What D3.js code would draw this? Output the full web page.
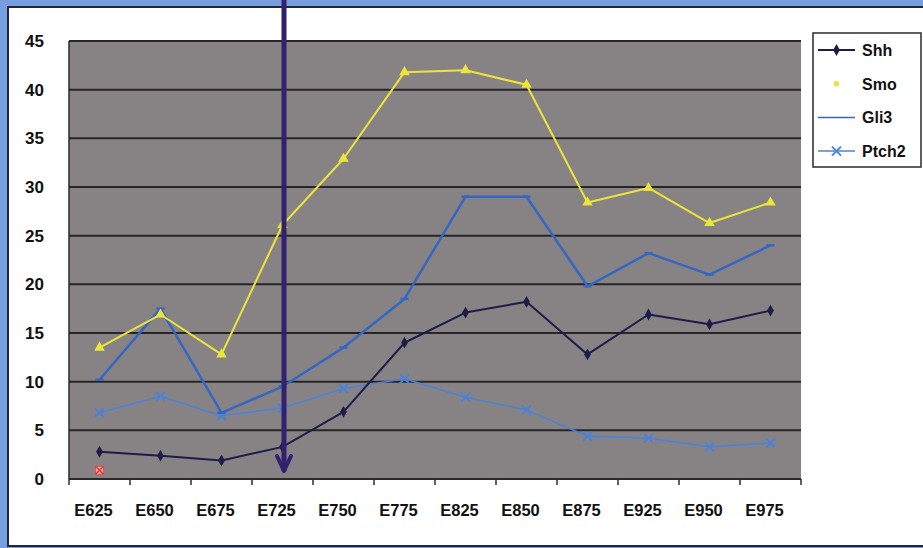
<!DOCTYPE html>
<html>
<head>
<meta charset="utf-8">
<script src="https://cdn.jsdelivr.net/npm/d3@7"></script>
<style>
  html, body { margin: 0; padding: 0; background: #779fe0; }
  svg { display: block; }
  text { font-family: "Liberation Sans", Arial, sans-serif; font-weight: bold; fill: #111; }
</style>
</head>
<body>
<svg id="chart" width="923" height="548"></svg>
<script>
// Embryo stages along the x axis
const stages = ["E625", "E650", "E675", "E725", "E750", "E775", "E825", "E850", "E875", "E925", "E950", "E975"];

// Expression level per stage
const shh   = [2.8, 2.4, 1.9, 3.3, 6.9, 14.0, 17.1, 18.2, 12.8, 16.9, 15.9, 17.3];
const smo   = [13.5, 16.9, 12.8, 26.1, 32.9, 41.8, 42.0, 40.5, 28.4, 29.9, 26.3, 28.4];
const gli3  = [10.2, 17.5, 6.8, 9.5, 13.5, 18.5, 29.0, 29.0, 19.8, 23.2, 21.0, 24.0];
const ptch2 = [6.8, 8.5, 6.5, 7.3, 9.3, 10.3, 8.4, 7.1, 4.4, 4.2, 3.3, 3.7];

// Lone marker near the baseline at the first stage
const strayStage = ["E625"];
const strayValue = [0.9];

// Y axis ticks
const yTicks = [0, 5, 10, 15, 20, 25, 30, 35, 40, 45];

// Stage marked by the arrow
const arrowStage = "E725";

const series = [
  { name: "Shh",   values: shh,   color: "#1c1d48", width: 2,   marker: "diamond" },
  { name: "Smo",   values: smo,   color: "#ece43a", width: 2,   marker: "triangle" },
  { name: "Gli3",  values: gli3,  color: "#3566c2", width: 2.5, marker: "dash" },
  { name: "Ptch2", values: ptch2, color: "#4b82d8", width: 1.6, marker: "cross" }
];

const svg = d3.select("#chart");

// White panel with a dark frame
svg.append("rect").attr("x", 8).attr("y", 7).attr("width", 920).attr("height", 539)
  .attr("fill", "#ffffff").attr("stroke", "#23253a").attr("stroke-width", 2);

const plot = { left: 69, right: 801, top: 41, bottom: 479 };

const x = d3.scaleBand().domain(stages).range([plot.left, plot.right]).paddingInner(0).paddingOuter(0);
const y = d3.scaleLinear().domain([0, 45]).range([plot.bottom, plot.top]);
const cx = s => x(s) + x.bandwidth() / 2;

// Plot background
svg.append("rect").attr("x", plot.left).attr("y", plot.top)
  .attr("width", plot.right - plot.left).attr("height", plot.bottom - plot.top)
  .attr("fill", "#878384");

// Horizontal gridlines
svg.append("g").selectAll("line").data(yTicks.filter(t => t > 0)).join("line")
  .attr("x1", plot.left).attr("x2", plot.right)
  .attr("y1", d => y(d)).attr("y2", d => y(d))
  .attr("stroke", "#262626").attr("stroke-width", 2);

// Left border of the plot area
svg.append("line").attr("x1", plot.left).attr("x2", plot.left)
  .attr("y1", plot.top).attr("y2", plot.bottom)
  .attr("stroke", "#2a2a2a").attr("stroke-width", 1.5);

// Y axis labels
const yAxis = d3.axisLeft(y).tickValues(yTicks).tickSize(0).tickPadding(25);
const gy = svg.append("g").attr("transform", `translate(${plot.left},0)`).call(yAxis);
gy.select(".domain").remove();
gy.selectAll("text").style("font-size", "17px").attr("fill", "#111")
  .style("font-family", "'Liberation Sans', Arial, sans-serif").style("font-weight", "bold");

// X axis with ticks between categories
const gx = svg.append("g").attr("transform", `translate(0,${plot.bottom})`);
gx.append("line").attr("x1", plot.left).attr("x2", plot.right).attr("y1", 0).attr("y2", 0)
  .attr("stroke", "#2a2a2a").attr("stroke-width", 2);
const boundaries = stages.map(s => x(s)).concat([plot.right]);
gx.selectAll("line.tick").data(boundaries).join("line").attr("class", "tick")
  .attr("x1", d => d).attr("x2", d => d).attr("y1", 0).attr("y2", 6)
  .attr("stroke", "#2a2a2a").attr("stroke-width", 1.5);
gx.selectAll("text").data(stages).join("text")
  .attr("x", d => cx(d) - 6).attr("y", 37)
  .attr("text-anchor", "middle").style("font-size", "16.5px").text(d => d);

// Marker shapes
function drawMarker(g, type, color, px, py) {
  if (type === "diamond") {
    g.append("path").attr("d", d3.symbol(d3.symbolDiamond, 40)())
      .attr("transform", `translate(${px},${py})`).attr("fill", color);
  } else if (type === "triangle") {
    g.append("path").attr("d", d3.symbol(d3.symbolTriangle, 48)())
      .attr("transform", `translate(${px},${py})`).attr("fill", color);
  } else if (type === "dash") {
    g.append("line").attr("x1", px - 4).attr("x2", px + 4).attr("y1", py).attr("y2", py)
      .attr("stroke", color).attr("stroke-width", 2.5);
  } else if (type === "cross") {
    g.append("path").attr("d", `M${px - 4.5},${py - 4.5}L${px + 4.5},${py + 4.5}M${px - 4.5},${py + 4.5}L${px + 4.5},${py - 4.5}`)
      .attr("stroke", color).attr("stroke-width", 2);
  }
}

const line = d3.line().x((d, i) => cx(stages[i])).y(d => y(d));

// Draw order: Ptch2 and Gli3 beneath, then Smo and Shh
const order = ["Ptch2", "Gli3", "Smo", "Shh"];
order.forEach(name => {
  const s = series.find(d => d.name === name);
  const g = svg.append("g");
  g.append("path").datum(s.values).attr("d", line)
    .attr("fill", "none").attr("stroke", s.color).attr("stroke-width", s.width)
    .attr("stroke-linejoin", "round");
  s.values.forEach((v, i) => drawMarker(g, s.marker, s.color, cx(stages[i]), y(v)));
});

// Stray marker
strayStage.forEach((st, i) => {
  const px = cx(st), py = y(strayValue[i]);
  const g = svg.append("g");
  g.append("rect").attr("x", px - 4).attr("y", py - 4).attr("width", 8).attr("height", 8)
    .attr("fill", "#f2a0a0").attr("stroke", "#e05555").attr("stroke-width", 1);
  g.append("path").attr("d", `M${px - 4},${py - 4}L${px + 4},${py + 4}M${px - 4},${py + 4}L${px + 4},${py - 4}`)
    .attr("stroke", "#d84040").attr("stroke-width", 1.5);
});

// Legend
const legend = svg.append("g");
legend.append("rect").attr("x", 813).attr("y", 33).attr("width", 108).attr("height", 134)
  .attr("fill", "#ffffff").attr("stroke", "#2a2a2a").attr("stroke-width", 1.5);
series.forEach((s, i) => {
  const ly = 50 + i * 33.7;
  const g = legend.append("g");
  if (s.name !== "Smo") {
    g.append("line").attr("x1", 818).attr("x2", 855).attr("y1", ly).attr("y2", ly)
      .attr("stroke", s.color).attr("stroke-width", s.name === "Shh" ? 2 : 1.5);
    if (s.marker === "diamond" || s.marker === "cross") drawMarker(g, s.marker, s.color, 836.5, ly);
  } else {
    g.append("circle").attr("cx", 836.5).attr("cy", ly).attr("r", 2.8).attr("fill", s.color);
  }
  g.append("text").attr("x", 862).attr("y", ly + 6).style("font-size", "16px").text(s.name);
});

// Arrow pointing down at the marked stage
const ax = cx(arrowStage) + 1.5;
const arrow = svg.append("g").attr("stroke", "#33206e").attr("fill", "none")
  .attr("stroke-width", 5).attr("stroke-linecap", "round");
arrow.append("line").attr("x1", ax).attr("x2", ax).attr("y1", 0).attr("y2", 470);
arrow.append("path").attr("d", `M${ax - 7},${456}L${ax},${471}L${ax + 7},${456}`)
  .attr("stroke-width", 4).attr("stroke-linejoin", "round");
</script>
</body>
</html>
